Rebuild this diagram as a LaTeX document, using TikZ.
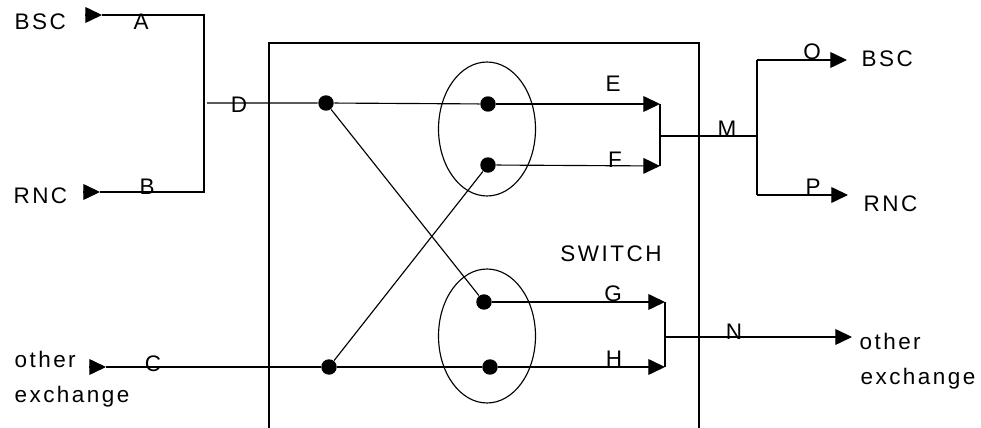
\documentclass[tikz,border=0pt]{standalone}
\usepackage{fontspec}
\setmainfont{Liberation Sans}
\newfontfamily\widefont{Liberation Sans}[LetterSpace=11]
\usepackage{tikz}
\usetikzlibrary{positioning, arrows.meta, shapes.geometric}
\tikzset{
  lbl/.style={font=\fontsize{12.8}{14}\selectfont, inner sep=0pt, anchor=base},
  word/.style={lbl, font=\fontsize{12.8}{14}\selectfont\widefont, anchor=base west},
  dot/.style={circle, fill=black, inner sep=0pt, minimum size=8.8pt},
  swring/.style={ellipse, draw, minimum width=1.94cm, minimum height=2.68cm, inner sep=0pt},
  arr/.style={-{Triangle[length=9.5pt, width=9pt]}},
}

\begin{document}
\begin{tikzpicture}[x=0.02cm, y=-0.02cm, line width=0.65pt]
  \useasboundingbox (0,0) rectangle (981,428);
  % switch frame, open at the bottom
  \draw (269,428) |- (699,43) -- (699,428);
  \node[swring] (ringU) at (487,129) {};
  \node[swring] (ringD) at (487,336) {};
  \node[dot] (pD) at (326,103) {};
  \node[dot] (pC) at (329,367) {};
  \node[dot] (pE) at (488,104) {};
  \node[dot] (pF) at (488,165) {};
  \node[dot] (pG) at (484,302) {};
  \node[dot] (pH) at (490,367) {};
  % junctions
  \coordinate (inA) at (85,15);   \coordinate (tipA) at (102,15);  \coordinate (joinA) at (204,15);
  \coordinate (inB) at (83,192);  \coordinate (tipB) at (100,192); \coordinate (joinB) at (204,192);
  \coordinate (joinD) at (207,103);
  \coordinate (inC) at (89,367);  \coordinate (tipC) at (106,367);
  \coordinate (outE) at (660,104); \coordinate (outF) at (660,166);
  \coordinate (joinM) at (661,136); \coordinate (forkM) at (757,136);
  \coordinate (forkO) at (757,60);  \coordinate (forkP) at (757,195);
  \coordinate (outO) at (847,60);   \coordinate (outP) at (848,195);
  \coordinate (outG) at (665,302); \coordinate (outH) at (665,367);
  \coordinate (joinN) at (664,337); \coordinate (outN) at (852,337);
  % inputs
  \draw[arr] (inA) -- (tipA);
  \draw[arr] (inB) -- (tipB);
  \draw (tipA) -- (joinA) -- (joinB) -- (tipB);
  \draw (joinD) -- (pD) -- (pE);
  \draw[arr] (inC) -- (tipC);
  \draw (tipC) -- (pC) -- (pH);
  % crossing
  \draw (pD) -- (pG);
  \draw (pC) -- (pF);
  % outputs
  \draw[arr] (pE) -- (outE);
  \draw[arr] (pF) -- (outF);
  \draw (outE) -- (outF);
  \draw (joinM) -- (forkM);
  \draw (forkO) -- (forkP);
  \draw[arr] (forkO) -- (outO);
  \draw[arr] (forkP) -- (outP);
  \draw[arr] (pG) -- (outG);
  \draw[arr] (pH) -- (outH);
  \draw (outG) -- (outH);
  \draw[arr] (joinN) -- (outN);
  % texts
  \node[word] (bscL) at (14,30) {BSC};
  \node[word] (rncL) at (13,204) {RNC};
  \node[word] (othL) at (14,368) {other};
  \node[word] (excL) at (14,403) {exchange};
  \node[word] (bscR) at (861,67) {BSC};
  \node[word] (rncR) at (863,212) {RNC};
  \node[word] (othR) at (859,350) {other};
  \node[word] (excR) at (860,385) {exchange};
  \node[word, anchor=base] (swLbl) at (611,262) {SWITCH};
  \node[lbl] (lA) at (141,30) {A};
  \node[lbl] (lB) at (147,195) {B};
  \node[lbl] (lD) at (239,113) {D};
  \node[lbl] (lC) at (153,372) {C};
  \node[lbl] (lE) at (613,92) {E};
  \node[lbl] (lF) at (615,168) {F};
  \node[lbl] (lM) at (727,137) {M};
  \node[lbl] (lO) at (812,60) {O};
  \node[lbl] (lP) at (813,195) {P};
  \node[lbl] (lG) at (613,302) {G};
  \node[lbl] (lH) at (614,367) {H};
  \node[lbl] (lN) at (734,340) {N};
\end{tikzpicture}
\end{document}
